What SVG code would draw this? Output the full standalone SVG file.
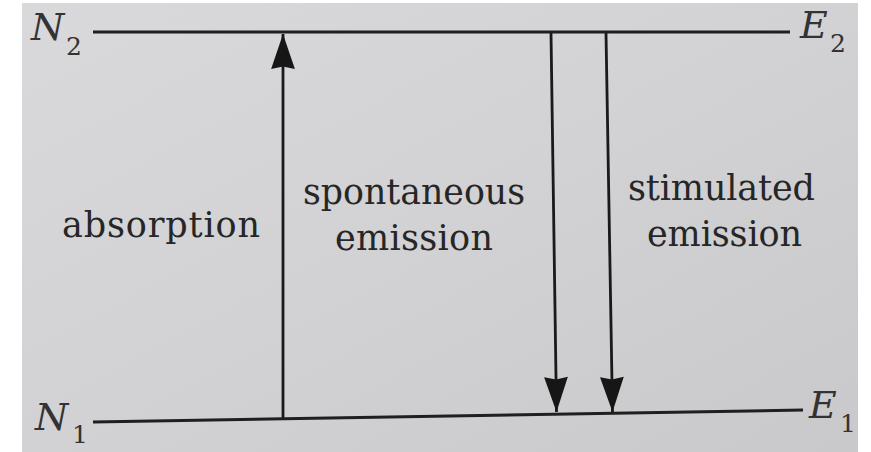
<svg xmlns="http://www.w3.org/2000/svg" width="871" height="452" viewBox="0 0 871 452">
<defs>
<linearGradient id="bg" x1="0" y1="0" x2="1" y2="1">
<stop offset="0" stop-color="#d9d8da"/>
<stop offset="0.5" stop-color="#d2d1d3"/>
<stop offset="1" stop-color="#c9c8ca"/>
</linearGradient>
<marker id="head" markerUnits="userSpaceOnUse" markerWidth="40" markerHeight="30" viewBox="-30 -12 32 24" refX="0" refY="0" orient="auto">
<path d="M0,0 L-28,-9.5 L-26,0 L-28,9.5 Z" fill="#161616"/>
</marker>
<style>
.lvl{stroke:#1f1f1f;stroke-width:3;fill:none;stroke-linecap:butt}
.arr{stroke:#1a1a1a;stroke-width:2.8;fill:none;marker-end:url(#head)}
.lbl{font-family:"DejaVu Serif","Liberation Serif",serif;font-size:35px;fill:#262626}
.sym{font-family:"DejaVu Serif","Liberation Serif",serif;font-style:italic;font-size:38px;fill:#333}
.sub{font-family:"DejaVu Serif","Liberation Serif",serif;font-size:25px;fill:#333}
</style>
</defs>
<rect x="0" y="0" width="871" height="452" fill="#ffffff"/>
<rect x="22" y="3" width="836" height="449" fill="url(#bg)"/>

<g id="level-upper">
<line class="lvl" x1="93" y1="32" x2="790" y2="32"/>
<text class="sym" x="31" y="40">N</text><text class="sub" x="66" y="55">2</text>
<text class="sym" x="800" y="38">E</text><text class="sub" x="830" y="52">2</text>
</g>
<g id="level-lower">
<line class="lvl" x1="93" y1="422" x2="803" y2="410"/>
<text class="sym" x="35" y="430">N</text><text class="sub" x="72" y="443">1</text>
<text class="sym" x="809" y="418">E</text><text class="sub" x="840" y="432">1</text>
</g>

<g id="connectors">
<line class="arr" x1="283" y1="419" x2="283" y2="34"/>
<line class="arr" x1="551" y1="33" x2="556.5" y2="412"/>
<line class="arr" x1="606" y1="33" x2="612.5" y2="412"/>
</g>

<g id="absorption">
<text class="lbl" x="62" y="237" textLength="198" lengthAdjust="spacing">absorption</text>
</g>
<g id="spontaneous-emission">
<text class="lbl" x="303" y="204" textLength="222" lengthAdjust="spacingAndGlyphs">spontaneous</text>
<text class="lbl" x="335" y="250" textLength="158" lengthAdjust="spacing">emission</text>
</g>
<g id="stimulated-emission">
<text class="lbl" x="628" y="200" textLength="187" lengthAdjust="spacing">stimulated</text>
<text class="lbl" x="647" y="246" textLength="155" lengthAdjust="spacing">emission</text>
</g>
</svg>
